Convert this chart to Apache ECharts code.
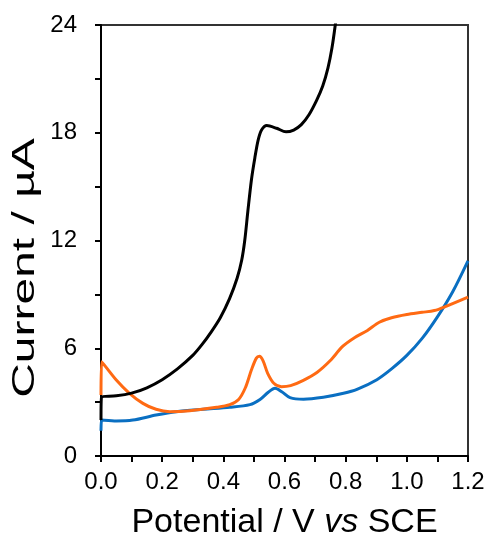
<!DOCTYPE html>
<html>
<head>
<meta charset="utf-8">
<script src="https://cdn.jsdelivr.net/npm/echarts@6/dist/echarts.min.js"></script>
<style>html,body{margin:0;padding:0;background:#fff}#c{width:489px;height:535px}</style>
</head>
<body>
<div id="c"></div>
<script>
// x: potential (V vs SCE), y: current (µA)
var blackData = [[0,2.0],[0.002,3.3],[0.05,3.35],[0.1,3.5],[0.15,3.8],[0.2,4.25],[0.25,4.85],[0.3,5.6],[0.33,6.2],[0.36,6.9],[0.39,7.7],[0.42,8.75],[0.445,9.9],[0.46,10.9],[0.47,12.0],[0.48,13.6],[0.492,15.4],[0.503,16.6],[0.514,17.6],[0.525,18.15],[0.542,18.4],[0.574,18.25],[0.605,18.05],[0.63,18.15],[0.655,18.45],[0.68,19.0],[0.705,19.8],[0.725,20.6],[0.742,21.6],[0.755,22.7],[0.766,24.0],[0.775,25.3]];
var orangeData = [[0,3.4],[0.002,5.25],[0.05,4.23],[0.093,3.49],[0.137,2.93],[0.18,2.6],[0.225,2.47],[0.29,2.52],[0.378,2.71],[0.421,2.86],[0.45,3.15],[0.472,3.8],[0.492,4.8],[0.508,5.45],[0.518,5.55],[0.53,5.3],[0.545,4.6],[0.565,4.05],[0.59,3.86],[0.62,3.92],[0.66,4.2],[0.706,4.65],[0.749,5.3],[0.79,6.1],[0.83,6.6],[0.87,6.98],[0.91,7.45],[0.95,7.7],[1.0,7.88],[1.05,8.0],[1.09,8.1],[1.13,8.35],[1.2,8.85]];
var blueData = [[0,1.4],[0.002,2.0],[0.05,1.95],[0.104,2.0],[0.18,2.28],[0.246,2.47],[0.334,2.6],[0.421,2.71],[0.487,2.86],[0.52,3.15],[0.547,3.55],[0.569,3.77],[0.591,3.58],[0.618,3.25],[0.662,3.16],[0.727,3.27],[0.793,3.49],[0.837,3.71],[0.902,4.25],[0.95,4.85],[1.0,5.6],[1.05,6.55],[1.1,7.75],[1.15,9.15],[1.2,10.87]];
var xTickLabels = ['0.0','0.2','0.4','0.6','0.8','1.0','1.2'];
var yTickLabels = ['0','6','12','18','24'];
var xTitle = 'Potential / V {i|vs} SCE';
var yTitle = 'Current / µA';

var FONT = 'Liberation Sans, Arial, sans-serif';
var chart = echarts.init(document.getElementById('c'));
chart.setOption({
  animation: false,
  grid: {left: 101, right: 21, top: 25, bottom: 79, containLabel: false, outerBoundsMode: 'none', show: true, borderColor: '#333', borderWidth: 2, backgroundColor: 'transparent'},
  xAxis: {
    type: 'value', min: 0, max: 1.2, interval: 0.1,
    axisLine: {onZero: false, lineStyle: {color: '#000', width: 2}},
    axisTick: {inside: false, length: 6, lineStyle: {color: '#000', width: 2}},
    splitLine: {show: false},
    axisLabel: {
      margin: 14, fontSize: 24, color: '#000', fontFamily: FONT,
      formatter: function (v) { var k = Math.round(v * 10); return k % 2 === 0 ? xTickLabels[k / 2] : ''; }
    },
    name: xTitle, nameLocation: 'middle', nameGap: 50,
    nameTextStyle: {fontSize: 34, color: '#000', fontFamily: FONT, rich: {i: {fontSize: 34, fontStyle: 'italic', color: '#000', fontFamily: FONT}}}
  },
  yAxis: {
    type: 'value', min: 0, max: 24, interval: 3,
    axisLine: {onZero: false, lineStyle: {color: '#000', width: 2}},
    axisTick: {inside: false, length: 6, lineStyle: {color: '#000', width: 2}},
    splitLine: {show: false},
    axisLabel: {
      margin: 24, fontSize: 24, color: '#000', fontFamily: FONT,
      formatter: function (v) { var k = Math.round(v / 3); return k % 2 === 0 ? yTickLabels[k / 2] : ''; }
    }
  },
  graphic: [{
    type: 'text', x: 25, y: 268, rotation: Math.PI / 2, scaleX: 1.5, scaleY: 1,
    style: {text: yTitle, fontSize: 32, fontFamily: FONT, fill: '#000', align: 'center', verticalAlign: 'middle'}
  }],
  series: [
    {type: 'line', data: blackData, smooth: 0.3, showSymbol: false, clip: true, lineStyle: {color: '#000', width: 3}, z: 3},
    {type: 'line', data: orangeData, smooth: 0.3, showSymbol: false, clip: true, lineStyle: {color: '#FF6A13', width: 3}, z: 2},
    {type: 'line', data: blueData, smooth: 0.3, showSymbol: false, clip: true, lineStyle: {color: '#0A6FC2', width: 3}, z: 1}
  ]
});
</script>
</body>
</html>
